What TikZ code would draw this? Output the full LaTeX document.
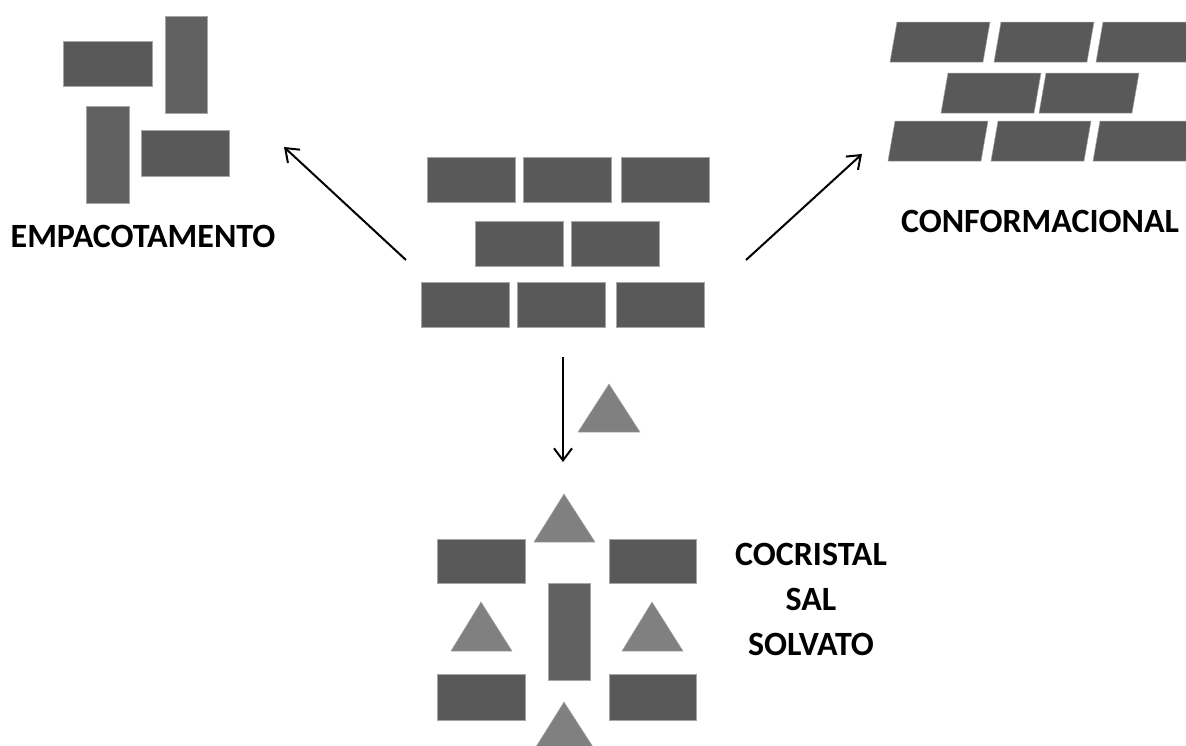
\documentclass[tikz,border=0pt]{standalone}
\usepackage{fontspec}
\setmainfont{Carlito}
\usetikzlibrary{arrows.meta}
\definecolor{brickgray}{HTML}{595959}
\definecolor{vbrickgray}{HTML}{616161}
\definecolor{trigray}{HTML}{808080}
\definecolor{edgegray}{HTML}{A6A6A6}
\begin{document}
\begin{tikzpicture}[x=1pt,y=-1pt,
  brick/.style={fill=brickgray, draw=edgegray, line width=0.6pt},
  vbrick/.style={fill=vbrickgray, draw=edgegray, line width=0.6pt},
  tri/.style={fill=trigray, draw=trigray!70!white, line width=0.5pt},
  pbrick/.style={fill=brickgray, draw=edgegray, line width=0.5pt},
  arr/.style={line width=2pt, -{Straight Barb[length=12pt,width=18pt,line width=2pt]}},
  lbl/.style={font=\bfseries\fontsize{34}{41}\selectfont, inner sep=0pt, text=black}]
\clip (0,0) rectangle (1186,745);
\fill[white] (0,0) rectangle (1186,745);

% ---- EMPACOTAMENTO (top left)
\draw[brick]  (63,41) rectangle (152,86);
\draw[vbrick] (165,16) rectangle (207,113);
\draw[vbrick] (86,106) rectangle (129,203);
\draw[brick]  (141,130) rectangle (229,176);
\node[lbl] (emp) at (143,236) {EMPACOTAMENTO};

% ---- CONFORMACIONAL (top right): parallelograms
\foreach \xt/\yt in {897/22, 1001/22, 1103/22, 948/73, 1046/73, 895/121, 998/121, 1100/121}{
  \draw[pbrick] (\xt,\yt) -- ++(93,0) -- ++(-7,40) -- ++(-93,0) -- cycle;
}
\node[lbl] (conf) at (1040,221) {CONFORMACIONAL};

% ---- central wall
\foreach \xa in {427,523,621}{ \draw[brick] (\xa,157) rectangle ++(88,45); }
\foreach \xa in {475,571}{ \draw[brick] (\xa,221) rectangle ++(88,45); }
\foreach \xa in {421,517,616}{ \draw[brick] (\xa,282) rectangle ++(88,45); }

% ---- arrows
\coordinate (aLs) at (406,260); \coordinate (aLe) at (284,147);
\coordinate (aRs) at (746,260); \coordinate (aRe) at (862,154);
\coordinate (aDs) at (563,357); \coordinate (aDe) at (563,462);
\draw[arr] (aLs) -- (aLe);
\draw[arr] (aRs) -- (aRe);
\draw[arr] (aDs) -- (aDe);

% ---- free triangle
\draw[tri] (609,384) -- (640,432) -- (578,432) -- cycle;

% ---- cocrystal arrangement
\draw[tri] (564,494) -- (595,542) -- (534,542) -- cycle;
\draw[brick] (437,539) rectangle (525,583);
\draw[brick] (609,539) rectangle (696,583);
\draw[vbrick] (548,583) rectangle (590,680);
\draw[tri] (481,602) -- (512,651) -- (451,651) -- cycle;
\draw[tri] (652,602) -- (683,651) -- (622,651) -- cycle;
\draw[brick] (437,674) rectangle (525,720);
\draw[brick] (609,674) rectangle (696,720);
\draw[tri] (564,702) -- (595,750) -- (534,750) -- cycle;

\node[lbl] (coc) at (811,554) {COCRISTAL};
\node[lbl] (sal) at (811,599) {SAL};
\node[lbl] (sol) at (811,644) {SOLVATO};
\end{tikzpicture}
\end{document}
